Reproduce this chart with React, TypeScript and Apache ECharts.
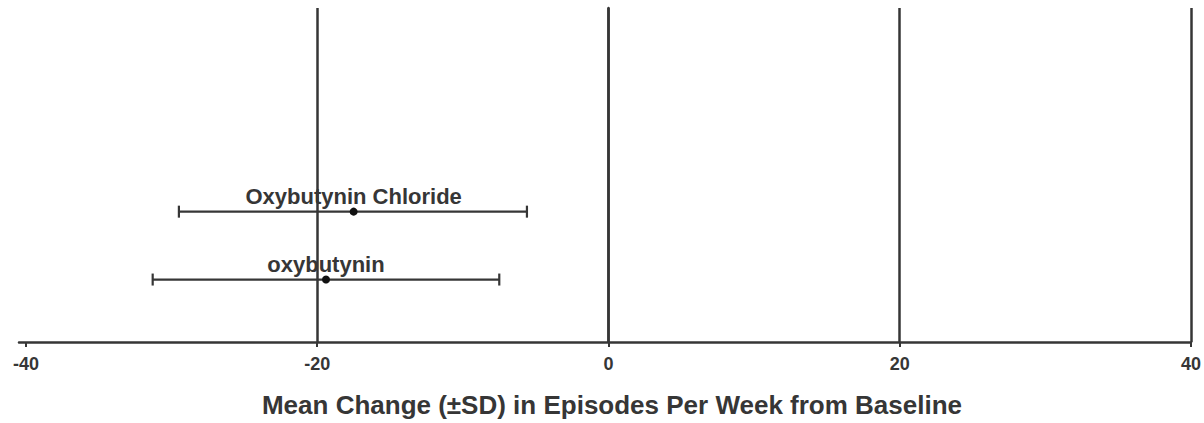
import React, { useEffect, useRef } from "react";
import * as echarts from "echarts";

const drugNames = ["oxybutynin", "Oxybutynin Chloride"];
const rowPositions = [1, 2];
const meanValues = [-19.4, -17.5];
const lowValues = [-31.3, -29.5];
const highValues = [-7.5, -5.6];
const tickValues = [-40, -20, 0, 20, 40];
const refLineValues = [-20, 0, 20, 40];
const axisTitle = "Mean Change (\u00B1SD) in Episodes Per Week from Baseline";

const INK = "#363636";
const FONT = "'Liberation Sans', Arial, Helvetica, sans-serif";

export default function App() {
  const ref = useRef<HTMLDivElement>(null);
  useEffect(() => {
    if (!ref.current) return;
    const chart = echarts.init(ref.current, null, { renderer: "svg" });
    const data = drugNames.map((n, i) => [lowValues[i], highValues[i], meanValues[i], rowPositions[i], n]);
    chart.setOption({
      animation: false,
      backgroundColor: "#ffffff",
      grid: { left: 19, right: 13, top: 8, bottom: 79 },
      xAxis: {
        type: "value",
        min: -40.48,
        max: 40,
        name: axisTitle,
        nameLocation: "middle",
        nameGap: 50,
        nameTextStyle: { fontFamily: FONT, fontWeight: "bold", fontSize: 26, color: INK, padding: [0, 0, 0, 14] },
        axisLine: { show: true, lineStyle: { color: INK, width: 2.5 } },
        axisTick: { show: true, length: 5, customValues: tickValues, lineStyle: { color: INK, width: 2 } },
        axisLabel: {
          show: true,
          customValues: tickValues,
          margin: 13,
          fontFamily: FONT,
          fontWeight: "bold",
          fontSize: 18,
          color: INK,
        },
        splitLine: { show: false },
      },
      yAxis: {
        type: "value",
        min: 0.08,
        max: 5,
        axisLine: { show: true, lineStyle: { color: INK, width: 2.5 } },
        axisTick: { show: false },
        axisLabel: { show: false },
        splitLine: { show: false },
      },
      series: [
        {
          type: "custom",
          data,
          encode: { x: [0, 1, 2], y: 3 },
          renderItem: (params: any, api: any) => {
            const lo = api.coord([api.value(0), api.value(3)]);
            const hi = api.coord([api.value(1), api.value(3)]);
            const mid = api.coord([api.value(2), api.value(3)]);
            const name = data[params.dataIndex][4] as string;
            const y = lo[1];
            const ls = { stroke: INK, lineWidth: 2.2 };
            return {
              type: "group",
              children: [
                { type: "line", shape: { x1: lo[0], y1: y, x2: hi[0], y2: y }, style: ls },
                { type: "line", shape: { x1: lo[0], y1: y - 6, x2: lo[0], y2: y + 6 }, style: ls },
                { type: "line", shape: { x1: hi[0], y1: y - 6, x2: hi[0], y2: y + 6 }, style: ls },
                { type: "circle", shape: { cx: mid[0], cy: mid[1], r: 4 }, style: { fill: "#111" } },
                {
                  type: "text",
                  x: mid[0],
                  y: mid[1] - 15,
                  style: {
                    text: name,
                    align: "center",
                    verticalAlign: "middle",
                    fontFamily: FONT,
                    fontWeight: "bold",
                    fontSize: 22,
                    fill: INK,
                  },
                },
              ],
            };
          },
          markLine: {
            silent: true,
            symbol: "none",
            label: { show: false },
            lineStyle: { color: INK, width: 2.5, type: "solid" },
            data: refLineValues.map((v) => ({ xAxis: v })),
          },
        },
      ],
    });
    return () => chart.dispose();
  }, []);
  return <div ref={ref} style={{ width: 1204, height: 423, position: "absolute", left: 0, top: 0 }} />;
}
